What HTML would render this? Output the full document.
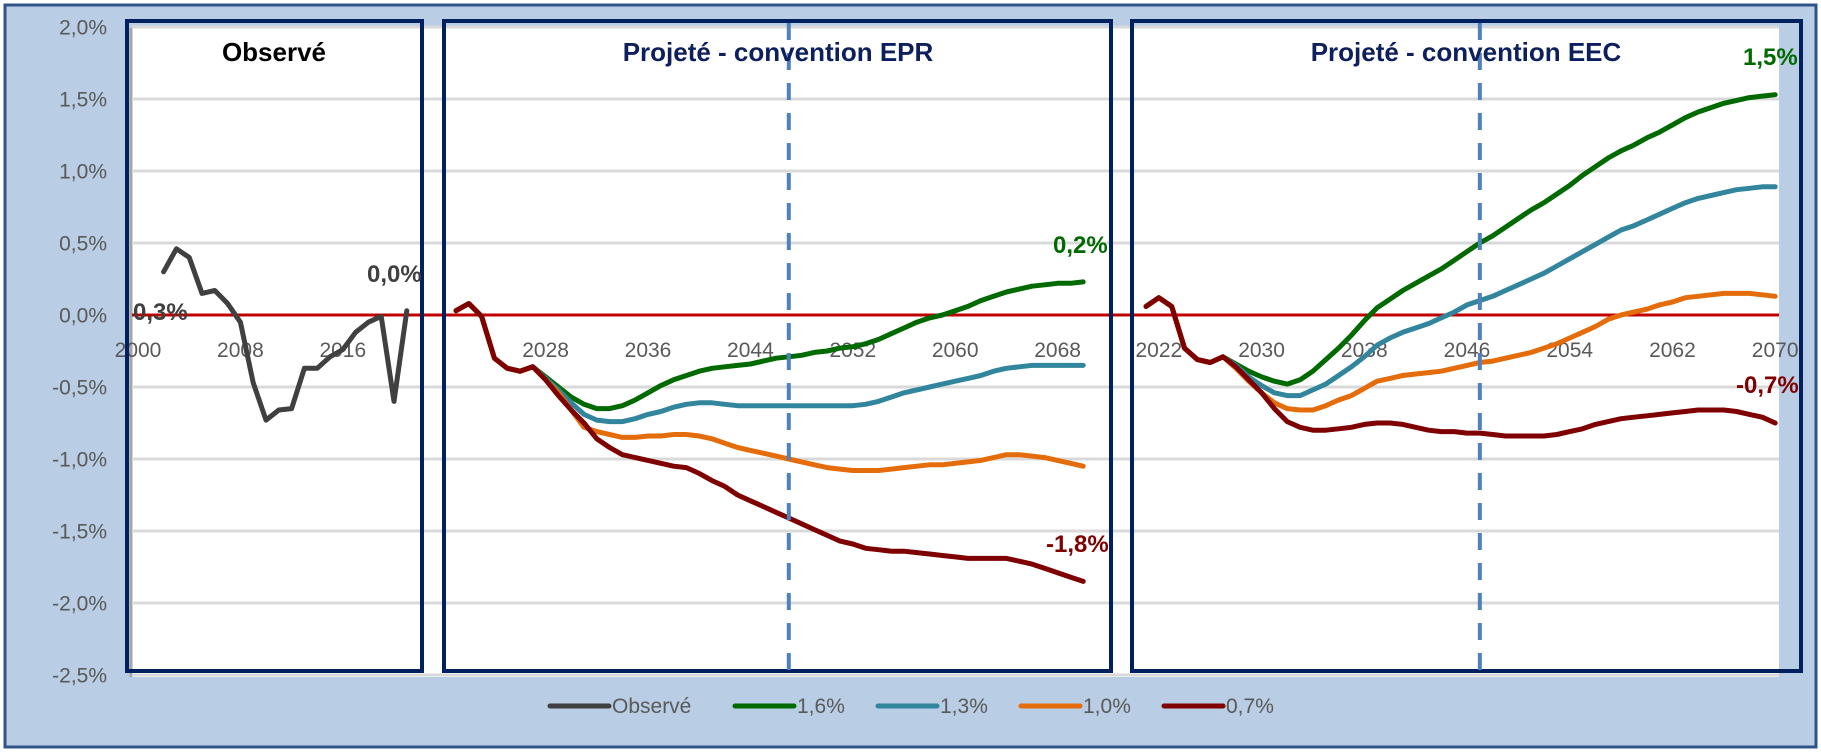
<!DOCTYPE html>
<html><head><meta charset="utf-8"><style>
html,body{margin:0;padding:0;background:#fff;}
svg{display:block;}
text{font-family:"Liberation Sans",Arial,sans-serif;}
</style></head><body>
<svg id="chart" width="1821" height="753" viewBox="0 0 1821 753" xmlns="http://www.w3.org/2000/svg">
<rect x="5" y="5" width="1811" height="742" fill="#b9cde5" stroke="#2f5488" stroke-width="3"/>
<rect x="132" y="28" width="1647" height="649" fill="#ffffff"/>
<line x1="131" y1="28" x2="131" y2="677" stroke="#a6a6a6" stroke-width="3"/>
<g id="grid"></g>
<g id="yticks"></g>
<g id="xticks"></g>
<g id="series"></g>
<g id="boxes"></g>
<text x="274" y="61" font-size="26" font-weight="bold" text-anchor="middle" fill="#000">Observé</text>
<text x="778" y="61" font-size="26" font-weight="bold" text-anchor="middle" fill="#0d1f5c">Projeté - convention EPR</text>
<text x="1466" y="61" font-size="26" font-weight="bold" text-anchor="middle" fill="#0d1f5c">Projeté - convention EEC</text>
<g id="labels"></g>
<g id="legend"></g>
</svg>
<script>
const yTicks = [2.0,1.5,1.0,0.5,0.0,-0.5,-1.0,-1.5,-2.0,-2.5];
const obsTickYears = [2000,2008,2016];
const eprTickYears = [2028,2036,2044,2052,2060,2068];
const eecTickYears = [2022,2030,2038,2046,2054,2062,2070];
const obsYearStart = 2002;
const obsValues = [0.30,0.46,0.40,0.15,0.17,0.08,-0.05,-0.47,-0.73,-0.66,-0.65,-0.37,-0.37,-0.29,-0.24,-0.12,-0.05,-0.01,-0.60,0.03];
const projYearStart = 2021;
const eprPrefix = [0.03,0.08,-0.01,-0.30,-0.37,-0.39,-0.36];
const eprGreen = [-0.43,-0.50,-0.57,-0.62,-0.65,-0.65,-0.63,-0.59,-0.54,-0.49,-0.45,-0.42,-0.39,-0.37,-0.36,-0.35,-0.34,-0.32,-0.30,-0.29,-0.28,-0.26,-0.25,-0.23,-0.22,-0.20,-0.17,-0.13,-0.09,-0.05,-0.02,0.00,0.03,0.06,0.10,0.13,0.16,0.18,0.20,0.21,0.22,0.22,0.23];
const eprBlue = [-0.44,-0.52,-0.61,-0.69,-0.73,-0.74,-0.74,-0.72,-0.69,-0.67,-0.64,-0.62,-0.61,-0.61,-0.62,-0.63,-0.63,-0.63,-0.63,-0.63,-0.63,-0.63,-0.63,-0.63,-0.63,-0.62,-0.60,-0.57,-0.54,-0.52,-0.50,-0.48,-0.46,-0.44,-0.42,-0.39,-0.37,-0.36,-0.35,-0.35,-0.35,-0.35,-0.35];
const eprOrange = [-0.45,-0.54,-0.66,-0.78,-0.81,-0.83,-0.85,-0.85,-0.84,-0.84,-0.83,-0.83,-0.84,-0.86,-0.89,-0.92,-0.94,-0.96,-0.98,-1.00,-1.02,-1.04,-1.06,-1.07,-1.08,-1.08,-1.08,-1.07,-1.06,-1.05,-1.04,-1.04,-1.03,-1.02,-1.01,-0.99,-0.97,-0.97,-0.98,-0.99,-1.01,-1.03,-1.05];
const eprRed = [-0.45,-0.56,-0.66,-0.75,-0.86,-0.92,-0.97,-0.99,-1.01,-1.03,-1.05,-1.06,-1.10,-1.15,-1.19,-1.25,-1.29,-1.33,-1.37,-1.41,-1.45,-1.49,-1.53,-1.57,-1.59,-1.62,-1.63,-1.64,-1.64,-1.65,-1.66,-1.67,-1.68,-1.69,-1.69,-1.69,-1.69,-1.71,-1.73,-1.76,-1.79,-1.82,-1.85];
const eecPrefix = [0.06,0.12,0.06,-0.23,-0.31,-0.33,-0.29];
const eecGreen = [-0.34,-0.39,-0.43,-0.46,-0.48,-0.45,-0.39,-0.31,-0.23,-0.14,-0.04,0.05,0.11,0.17,0.22,0.27,0.32,0.38,0.44,0.50,0.55,0.61,0.67,0.73,0.78,0.84,0.90,0.97,1.03,1.09,1.14,1.18,1.23,1.27,1.32,1.37,1.41,1.44,1.47,1.49,1.51,1.52,1.53];
const eecBlue = [-0.35,-0.43,-0.49,-0.54,-0.56,-0.56,-0.52,-0.48,-0.42,-0.36,-0.29,-0.21,-0.16,-0.12,-0.09,-0.06,-0.02,0.02,0.07,0.10,0.13,0.17,0.21,0.25,0.29,0.34,0.39,0.44,0.49,0.54,0.59,0.62,0.66,0.70,0.74,0.78,0.81,0.83,0.85,0.87,0.88,0.89,0.89];
const eecOrange = [-0.37,-0.46,-0.54,-0.61,-0.65,-0.66,-0.66,-0.63,-0.59,-0.56,-0.51,-0.46,-0.44,-0.42,-0.41,-0.40,-0.39,-0.37,-0.35,-0.33,-0.32,-0.30,-0.28,-0.26,-0.23,-0.20,-0.16,-0.12,-0.08,-0.03,0.00,0.02,0.04,0.07,0.09,0.12,0.13,0.14,0.15,0.15,0.15,0.14,0.13];
const eecRed = [-0.36,-0.45,-0.54,-0.65,-0.74,-0.78,-0.80,-0.80,-0.79,-0.78,-0.76,-0.75,-0.75,-0.76,-0.78,-0.80,-0.81,-0.81,-0.82,-0.82,-0.83,-0.84,-0.84,-0.84,-0.84,-0.83,-0.81,-0.79,-0.76,-0.74,-0.72,-0.71,-0.70,-0.69,-0.68,-0.67,-0.66,-0.66,-0.66,-0.67,-0.69,-0.71,-0.75];
const dashYear = 2047;
const legendNames = ["Observé","1,6%","1,3%","1,0%","0,7%"];
const valueLabelTexts = ["0,3%","0,0%","0,2%","-1,8%","1,5%","-0,7%"];

const NS = "http://www.w3.org/2000/svg";
const COL = {obs:"#404040", g:"#006a00", b:"#31859c", o:"#e46c0a", r:"#7f0000"};
function yS(v){ return 315 - v*144; }
function xObs(yr){ return 138 + (yr-2000)*12.8; }
function xEpr(yr){ return 456 + (yr-2021)*12.8; }
function xEec(yr){ return 1146 + (yr-2021)*12.84; }
function mk(tag, attrs, parent){
  const e = document.createElementNS(NS, tag);
  for (const k in attrs) e.setAttribute(k, attrs[k]);
  parent.appendChild(e); return e;
}
function fmt(v){ return v.toFixed(1).replace('.',',') + '%'; }

const grid = document.getElementById('grid');
const yt = document.getElementById('yticks');
yTicks.forEach(v => {
  if (v !== 0) {
    const l = mk('line',{x1:132,x2:1779,y1:yS(v),y2:yS(v),stroke:'#d9d9d9','stroke-width':3},grid);
    
    
  }
  const t = mk('text',{x:107,y:yS(v)+7.5,'font-size':21,fill:'#595959','text-anchor':'end'},yt);
  t.textContent = fmt(v);
  
  
});
const xt = document.getElementById('xticks');
[[obsTickYears,xObs],[eprTickYears,xEpr],[eecTickYears,xEec]].forEach(([arr,f]) => {
  arr.forEach(yr => {
    const t = mk('text',{x:f(yr),y:357,'font-size':21,fill:'#595959','text-anchor':'middle'},xt);
    t.textContent = yr;
    
    
  });
});

const ser = document.getElementById('series');
const zl = mk('line',{x1:132,x2:1779,y1:yS(0),y2:yS(0),stroke:'#c00000','stroke-width':3},ser);


function line(vals, startYr, xf, color, name){
  const pts = vals.map((v,i)=> xf(startYr+i).toFixed(1)+','+yS(v).toFixed(1)).join(' ');
  const p = mk('polyline',{points:pts,fill:'none',stroke:color,'stroke-width':5,'stroke-linejoin':'round','stroke-linecap':'round'},ser);
  
  
}
line(obsValues, obsYearStart, xObs, COL.obs, 'observe-line');
line(eprPrefix.concat(eprGreen), projYearStart, xEpr, COL.g, 'epr-line-1-6');
line(eprPrefix.concat(eprBlue), projYearStart, xEpr, COL.b, 'epr-line-1-3');
line(eprPrefix.concat(eprOrange), projYearStart, xEpr, COL.o, 'epr-line-1-0');
line(eprPrefix.concat(eprRed), projYearStart, xEpr, COL.r, 'epr-line-0-7');
line(eecPrefix.concat(eecGreen), projYearStart, xEec, COL.g, 'eec-line-1-6');
line(eecPrefix.concat(eecBlue), projYearStart, xEec, COL.b, 'eec-line-1-3');
line(eecPrefix.concat(eecOrange), projYearStart, xEec, COL.o, 'eec-line-1-0');
line(eecPrefix.concat(eecRed), projYearStart, xEec, COL.r, 'eec-line-0-7');

const bx = document.getElementById('boxes');
[[127,422],[444,1111],[1132,1801]].forEach((b,i) => {
  const r = mk('rect',{x:b[0],y:21,width:b[1]-b[0],height:650,fill:'none',stroke:'#002060','stroke-width':4},bx);
  
  
});
[xEpr(dashYear), xEec(dashYear)].forEach(x => {
  const d = mk('line',{x1:x,x2:x,y1:23,y2:683,stroke:'#4f81bd','stroke-width':4,'stroke-dasharray':'17 13'},bx);
  
  
});

const lab = document.getElementById('labels');
function vlabel(x, y, txt, color, name){
  const t = mk('text',{x:x,y:y,'font-size':24,'font-weight':'bold',fill:color},lab);
  t.textContent = txt;
  
  
}
vlabel(133, 320, valueLabelTexts[0], COL.obs, 'label-observe-start');
vlabel(367, 282, valueLabelTexts[1], COL.obs, 'label-observe-end');
vlabel(1053, 253, valueLabelTexts[2], COL.g, 'label-epr-green');
vlabel(1046, 552, valueLabelTexts[3], COL.r, 'label-epr-red');
vlabel(1743, 65, valueLabelTexts[4], COL.g, 'label-eec-green');
vlabel(1736, 393, valueLabelTexts[5], COL.r, 'label-eec-red');

const leg = document.getElementById('legend');
const legColors = [COL.obs, COL.g, COL.b, COL.o, COL.r];
const legX = [550, 735, 878, 1021, 1164];
legendNames.forEach((n,i) => {
  const g = mk('g',{},leg);
  
  
  mk('line',{x1:legX[i],x2:legX[i]+59,y1:706,y2:706,stroke:legColors[i],'stroke-width':5,'stroke-linecap':'round'},g);
  const t = mk('text',{x:legX[i]+62,y:713,'font-size':21,fill:'#595959'},g);
  t.textContent = n;
});
</script>
</body></html>
